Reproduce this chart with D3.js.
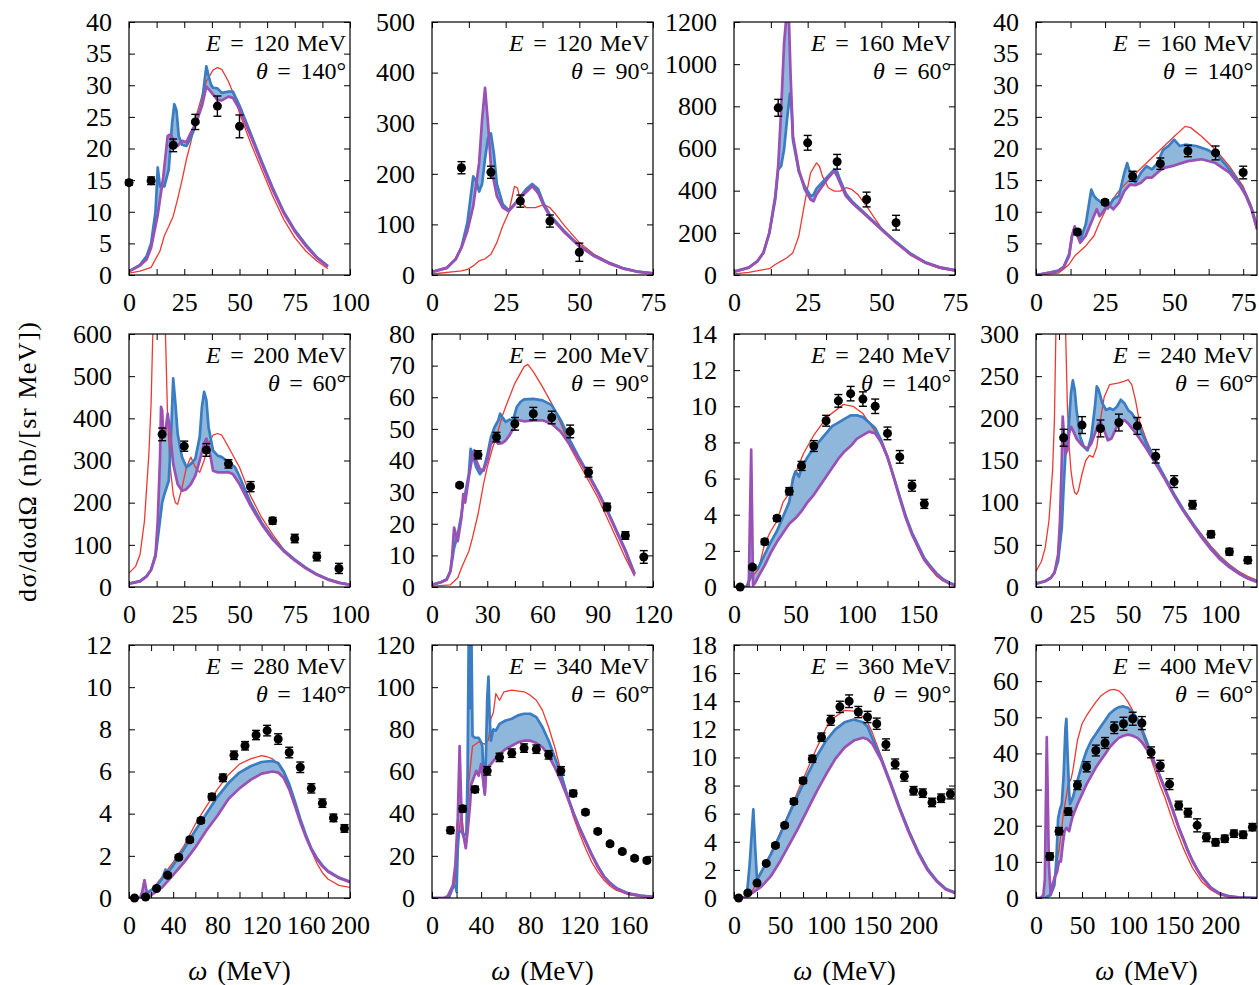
<!DOCTYPE html>
<html>
<head>
<meta charset="utf-8">
<script src="https://cdn.jsdelivr.net/npm/d3@7"></script>
<style>
  body { margin: 0; background: #fff; }
  svg text { font-family: "Liberation Serif", "DejaVu Serif", serif; fill: #000; }
</style>
</head>
<body>
<svg id="chart" width="1259" height="985"></svg>
<script>
// ---------- panel settings ----------
const beamEnergy = [120, 120, 160, 160, 200, 200, 240, 240, 280, 340, 360, 400];
const scatAngle  = [140, 90, 60, 140, 60, 90, 140, 60, 140, 60, 90, 60];
const omegaMax   = [100, 75, 75, 80, 100, 120, 180, 120, 200, 180, 240, 240];
const omegaStep  = [25, 25, 25, 25, 25, 30, 50, 25, 40, 40, 50, 50];
const sigmaMax   = [40, 500, 1200, 40, 600, 80, 14, 300, 12, 120, 18, 70];
const sigmaStep  = [5, 100, 200, 5, 100, 10, 2, 50, 2, 20, 2, 10];

// ---------- E = 120 MeV, theta = 140 deg ----------
const red120_140 = [[0,0.3],[5,0.6],[10,1.2],[14,3.8],[16,6.2],[18,7.7],[20,9.3],[22,12],[24,15],[26,18.3],[28,21],[30,24.6],[33,28.3],[35,30.6],[38,32.4],[40,32.8],[42,32.5],[45,30.6],[48,28],[50,25.6],[55,20.9],[60,16.7],[65,12.5],[70,8.8],[75,5.9],[80,3.8],[85,2.2],[90,1]];
const blue120_140 = [[0,0.6],[5,1.6],[8,3],[10,5],[12,10],[13,17],[14,14],[16,14],[18,16.7],[19.5,24],[20.5,27],[21.5,26],[22.5,22],[24,20.6],[26,20.4],[28,21.7],[30,23.5],[33,27.2],[35,33],[36,31.5],[37,30.2],[38,29.6],[40,29.5],[42,28.8],[45,29],[47,29],[50,26.8],[55,22.4],[60,18],[65,13.8],[70,10],[75,7.1],[80,4.8],[85,2.8],[90,1.4]];
const purple120_140 = [[0,0.6],[5,1.5],[8,2.5],[10,4.3],[13,9.5],[15.5,15.5],[17.5,22],[18.5,22.2],[20,21.5],[22,20.4],[24,21.2],[26,21],[28,22.5],[30,23.8],[33,26.7],[35,29.8],[37,29],[40,27.7],[42,27.6],[45,28.2],[47,28],[50,26.2],[55,22],[60,17.7],[65,13.5],[70,9.8],[75,6.9],[80,4.6],[85,2.7],[90,1.3]];
const dataX120_140 = [0, 10, 20, 30, 40, 50];
const dataY120_140 = [14.6, 14.9, 20.5, 24.2, 26.7, 23.5];
const dataE120_140 = [0.4, 0.6, 1.0, 1.2, 1.6, 1.8];

// ---------- E = 120 MeV, theta = 90 deg ----------
const red120_90 = [[0,2],[10,8],[12,11],[14,18],[16,28],[18,32],[20,41],[22,64],[24,97],[26,123],[28,175],[29,172],[30,146],[32,133],[35,133],[38,139],[40,133],[42,120],[45,97],[50,64],[55,41],[60,26],[65,14],[70,6.5],[75,3]];
const blue120_90 = [[0,6],[5,14],[8,31],[10,55],[12,103],[14,195],[15,185],[16,165],[17,180],[18,230],[19,270],[20,280],[21,240],[22,180],[24,140],[26,128],[28,140],[30,155],[32,170],[34,180],[36,170],[38,140],[40,119],[45,86],[50,58],[55,38.5],[60,24],[65,13],[70,6.5],[75,3.3]];
const purple120_90 = [[0,6],[5,14],[8,31],[10,54],[12,87],[14,136],[16,222],[17,307],[18,370],[19,300],[20,215],[22,156],[24,133],[26,126],[28,139],[30,153],[32,164],[34,176],[36,162],[38,136],[40,116],[45,84],[50,57],[55,37.5],[60,23],[65,12.5],[70,6],[75,3]];
const dataX120_90 = [10, 20, 30, 40, 50];
const dataY120_90 = [212, 203, 146, 106.6, 45];
const dataE120_90 = [12, 12, 12, 12, 18];

// ---------- E = 160 MeV, theta = 60 deg ----------
const red160_60 = [[0,5],[5,12],[10,25],[12,30],[14,50],[16,66],[18,82],[20,106],[22,185],[24,343],[26,485],[28,532],[29,516],[30,469],[32,414],[34,398],[36,398],[38,414],[40,406],[42,382],[45,327],[48,264],[50,224],[55,153],[60,93],[65,55],[70,30],[75,18]];
const blue160_60 = [[0,16],[5,35],[8,66],[10,106],[12,200],[14,358],[15,500],[16,517],[17,596],[18,738],[19,860],[19.5,800],[20,640],[22,490],[24,420],[26,375],[27,380],[28,410],[30,440],[32,470],[34,500],[35,490],[36,450],[38,385],[40,350],[45,285],[50,220],[55,157],[60,101],[65,60],[70,36],[75,23]];
const purple160_60 = [[0,16],[5,35],[8,66],[10,106],[12,200],[14,374],[15,517],[16,785],[17,1100],[17.8,1230],[18.6,1230],[19.2,950],[20,658],[22,500],[24,406],[26,358],[27,350],[28,382],[30,422],[32,461],[34,493],[35,469],[36,437],[38,374],[40,343],[45,280],[50,216],[55,153],[60,98],[65,58],[70,35],[75,22]];
const dataX160_60 = [15, 25, 35, 45, 55];
const dataY160_60 = [793, 627, 537, 358, 248];
const dataE160_60 = [40, 35, 35, 35, 35];

// ---------- E = 160 MeV, theta = 140 deg ----------
const red160_140 = [[0,0],[8,0.3],[10,0.9],[12,1.7],[14,3],[18,4.6],[21,6.2],[23,8.3],[25.6,10.6],[30,13.3],[35,15.6],[40,17.7],[45,19.8],[50,21.9],[54,23.5],[56,23.3],[60,21.9],[65,19.8],[70,17.2],[75,14],[78,10.9],[80,8]];
const blue160_140 = [[0,0],[5,0.4],[8,0.7],[10,1.3],[12,3.3],[13,6],[14,7.5],[15,6.5],[16,5.5],[18,8],[20,13.5],[21,12.5],[22,12],[24,11.4],[26,10.5],[28,12],[30,12.5],[32,16.2],[33,17.7],[34,16.2],[36,14.6],[38,16.2],[40,17.2],[42,16.7],[44,17.7],[46,19.8],[48,20.4],[50,21.4],[52,20.4],[54,20.6],[58,20.4],[62,19.8],[66,18.8],[70,16.7],[74,14.3],[76,12.7],[78,10.6],[80,7.4]];
const purple160_140 = [[0,0],[5,0.4],[8,0.6],[10,1.2],[12,3],[13,6.2],[14,7.7],[15,6.2],[16,5.1],[18,6.2],[20,8.3],[22,10.4],[23,9.3],[24,9.8],[26,11.2],[28,10.4],[30,11.4],[32,13.3],[34,14.3],[36,14.2],[38,14.6],[40,15.4],[42,15.4],[44,16.2],[46,16.9],[50,17.3],[55,18],[60,18.3],[65,17.7],[70,16.2],[74,14],[76,12.5],[78,10.4],[80,7.2]];
const dataX160_140 = [15, 25, 35, 45, 55, 65, 75];
const dataY160_140 = [6.8, 11.5, 15.6, 17.6, 19.6, 19.3, 16.2];
const dataE160_140 = [0.4, 0.4, 0.8, 0.9, 0.9, 1.1, 1.0];

// ---------- E = 200 MeV, theta = 60 deg ----------
const red200_60 = [[0,33],[3,49],[5,77],[7,157],[9,316],[10,435],[11,650],[12,1100],[13,1600],[14,1400],[15,1000],[16.5,600],[17.5,395],[18.5,292],[20,220],[21,200],[22,196],[24,236],[26,284],[28,308],[30,284],[32,272],[34,300],[36,340],[38,360],[40,364],[42,360],[45,332],[50,284],[55,216],[60,165],[65,125],[70,89],[75,65],[80,45],[85,31],[90,20],[95,12],[100,6]];
const blue200_60 = [[0,8],[5,14],[8,26],[10,41],[12,73],[14,157],[15,200],[16,220],[18,252],[19,356],[20,495],[21,435],[22,364],[24,308],[26,284],[28,292],[30,304],[32,356],[33,427],[34,463],[35,443],[36,379],[38,324],[40,312],[42,308],[45,296],[48,284],[50,262],[55,200],[60,153],[65,116],[70,87],[75,65],[80,46],[85,30],[90,18.5],[95,10],[100,5.5]];
const purple200_60 = [[0,8],[5,13.5],[8,25],[10,41],[12,77],[13,157],[14,300],[14.5,427],[15,419],[15.5,356],[16.5,371],[17.5,411],[18.5,371],[20,292],[22,244],[24,228],[26,232],[28,244],[30,264],[32,300],[34,340],[35,352],[36,336],[38,276],[40,272],[42,272],[45,272],[47,268],[50,244],[55,193],[60,149],[65,113],[70,85],[75,63],[80,44],[85,29],[90,17.5],[95,9.5],[100,5]];
const dataX200_60 = [15, 25, 35, 45, 55, 65, 75, 85, 95];
const dataY200_60 = [362, 334, 325, 292, 238, 157, 115, 72, 44];
const dataE200_60 = [15, 12, 15, 10, 12, 8, 10, 10, 12];

// ---------- E = 200 MeV, theta = 90 deg ----------
const red200_90 = [[0,0.3],[10,0.7],[14,2.9],[16,6],[18,8.7],[20,11.3],[22,15.6],[25,23],[28,32.6],[30,37.9],[33,44.2],[35,47.4],[38,53.8],[40,57],[45,64.4],[50,69.7],[52,70.4],[55,68.1],[60,63.3],[65,58],[70,51.6],[75,44.2],[80,38.9],[85,33.6],[90,28.3],[95,22],[100,15.6],[105,9.2],[110,3.4]];
const blue200_90 = [[0,0.7],[5,1.6],[8,2.5],[10,5],[12,12.4],[14,16.6],[16,23],[17,27.3],[18,29.4],[20,35.7],[21,43.7],[22,42],[24,37.9],[26,35.7],[28,37.3],[30,41.6],[32,47.4],[34,50.6],[36,52.7],[37,54.8],[38,53.8],[40,52.2],[42,52.9],[44,52.7],[46,56.9],[48,58.5],[50,59.3],[55,59.5],[60,59],[65,57.5],[70,52.7],[75,46.3],[80,40.7],[85,35.6],[90,30.3],[95,24.5],[100,18.1],[105,11.7],[110,4.3]];
const purple200_90 = [[0,0.7],[5,1.5],[8,2.3],[10,5],[11,10.3],[12,18.8],[13,16.6],[14,14.5],[16,22],[17,29.4],[18,26.7],[20,34.7],[22,41.6],[23,43.2],[24,40],[26,37.3],[28,36.8],[30,40],[32,45.3],[34,46.6],[36,45.3],[38,45.5],[40,46.3],[42,47.9],[44,50],[46,52.9],[50,52.4],[55,52.7],[60,52.7],[65,51.6],[70,49],[75,44.8],[80,40.2],[85,35.2],[90,29.9],[95,24.1],[100,17.7],[105,11.3],[110,3.9]];
const dataX200_90 = [15, 25, 35, 45, 55, 65, 75, 85, 95, 105, 115];
const dataY200_90 = [32.2, 41.8, 47.4, 51.6, 54.8, 53.6, 49.2, 36.3, 25.3, 16.3, 9.5];
const dataE200_90 = [0.6, 1.3, 1.5, 2, 2, 2, 2, 1.5, 1.2, 1.2, 2];

// ---------- E = 240 MeV, theta = 140 deg ----------
const red240_140 = [[0,0],[10,0],[14,0.5],[20,1],[25,2.4],[30,3.1],[35,3.65],[40,4.7],[46,5.3],[50,6.3],[56.7,7.4],[65,8.4],[75.7,9.4],[89,10.1],[97,10],[105,9.6],[110,9.1],[115,8.6],[120,7.9],[125,7.1],[130,6.1],[135,5],[140,3.9],[145,2.9],[150,2.1],[155,1.45],[160,1],[165,0.6],[170,0.35],[180,0.1]];
const blue240_140 = [[0,0],[10,0],[12,0.3],[14,0.7],[16,1],[20,1.1],[25,1.8],[30,2.5],[35,3.1],[40,3.9],[45,4.7],[48,6],[50,6.4],[53,6.1],[55,6.6],[60,7.2],[65,7.7],[70,8.1],[75,8.5],[80,8.9],[85,9.1],[90,9.3],[95,9.5],[100,9.5],[105,9.4],[110,9.1],[115,8.8],[120,8.1],[125,7.2],[130,6.1],[135,5],[140,3.9],[145,3],[150,2.3],[155,1.6],[160,1.15],[165,0.75],[170,0.45],[175,0.25],[180,0.12]];
const purple240_140 = [[0,0],[12,0],[14,7.6],[15.5,0.1],[17,0.2],[20,0.6],[25,1.2],[30,1.9],[35,2.5],[40,3],[45,3.5],[50,3.8],[55,4.2],[60,4.7],[65,5.1],[70,5.6],[75,6.1],[80,6.6],[85,7.1],[90,7.5],[95,7.8],[100,8.2],[105,8.4],[110,8.6],[115,8.5],[120,8.0],[125,7.2],[130,6.1],[135,4.9],[140,3.8],[145,2.9],[150,2.2],[155,1.5],[160,1.1],[165,0.7],[170,0.4],[175,0.2],[180,0.1]];
const dataX240_140 = [5, 15, 25, 35, 45, 55, 65, 75, 85, 95, 105, 115, 125, 135, 145, 155];
const dataY240_140 = [0, 1.1, 2.5, 3.8, 5.3, 6.7, 7.8, 9.2, 10.3, 10.7, 10.4, 10, 8.5, 7.2, 5.6, 4.6];
const dataE240_140 = [0.05, 0.12, 0.15, 0.15, 0.2, 0.25, 0.3, 0.3, 0.35, 0.4, 0.4, 0.4, 0.35, 0.35, 0.3, 0.25];

// ---------- E = 240 MeV, theta = 60 deg ----------
const red240_60 = [[0,18.7],[3,30.6],[5,46.6],[7,78],[9,138],[10,198],[11,330],[12,600],[13,900],[14,800],[15,500],[16,310],[17,218],[18,166],[19,138],[20,122],[21,112],[22,110],[23,114],[25,134],[27,150],[29,156],[31,154],[33,166],[35,198],[37,225],[40,240],[45,242],[48,244],[50,246],[52,240],[54,222],[56,198],[60,174],[65,150],[70,130],[75,110],[80,92],[85,76],[90,62.5],[95,48.5],[100,36.6],[105,26.7],[110,18.7],[115,12.7],[120,8]];
const blue240_60 = [[0,4],[5,7],[8,11],[10,17],[12,30.6],[14,70],[15,118],[16,158],[17,170],[18,198],[19,230],[20,245],[21,234],[22,210],[24,178],[26,166],[28,162],[30,178],[32,214],[33,238],[34,234],[36,218],[38,210],[40,212],[42,210],[44,214],[46,222],[48,218],[50,210],[52,206],[55,196],[60,170],[65,150],[70,130],[75,110],[80,92],[85,76],[90,60],[95,46],[100,34],[105,24.5],[110,16.8],[115,10.5],[120,6.5]];
const purple240_60 = [[0,4],[5,6.8],[8,10.7],[10,16.7],[12,38.6],[13,78],[14,150],[14.5,202],[15,186],[16,158],[17,162],[18,182],[19,190],[20,186],[22,176],[25,168],[28,164],[30,170],[32,182],[34,194],[35,196],[37,186],[39,174],[41,176],[43,186],[45,194],[48,198],[50,194],[55,180],[60,164],[65,146],[70,128],[75,108],[80,90],[85,74],[90,58.5],[95,44.6],[100,32.6],[105,23.5],[110,16],[115,10],[120,6]];
const dataX240_60 = [15, 25, 35, 45, 55, 65, 75, 85, 95, 105, 115];
const dataY240_60 = [177, 192, 188, 195, 191, 155, 125, 97.5, 62.5, 41.8, 31.8];
const dataE240_60 = [10, 10, 10, 10, 10, 8, 7, 5, 4, 4, 4];

// ---------- E = 280 MeV, theta = 140 deg ----------
const red280_140 = [[0,0],[10,0],[20,0.35],[30,1],[40,1.7],[50,2.5],[60,3.5],[70,4.35],[80,5.15],[90,5.85],[100,6.35],[110,6.6],[120,6.75],[125,6.7],[130,6.6],[135,6.35],[140,5.95],[145,5.3],[150,4.5],[155,3.7],[160,2.95],[165,2.25],[170,1.65],[175,1.2],[180,0.9],[190,0.6],[200,0.5]];
const blue280_140 = [[0,0],[10,0],[15,0.2],[20,0.37],[25,0.6],[30,0.9],[33,1.35],[35,1.2],[40,1.55],[50,2.35],[60,3.2],[70,4],[80,4.8],[90,5.45],[100,5.95],[110,6.25],[120,6.45],[130,6.5],[135,6.4],[140,6],[145,5.4],[150,4.6],[155,3.75],[160,3],[165,2.35],[170,1.9],[175,1.55],[180,1.28],[190,0.97],[200,0.77]];
const purple280_140 = [[0,0],[10,0],[12,0.3],[14,0.85],[16,0.3],[17,0.05],[20,0.13],[30,0.5],[40,1.1],[50,1.7],[60,2.4],[70,3.2],[80,3.9],[90,4.7],[100,5.2],[110,5.6],[120,5.9],[130,6],[135,5.95],[140,5.7],[145,5.15],[150,4.4],[155,3.6],[160,2.9],[165,2.3],[170,1.85],[175,1.5],[180,1.25],[190,0.95],[200,0.75]];
const dataX280_140 = [5, 15, 25, 35, 45, 55, 65, 75, 85, 95, 105, 115, 125, 135, 145, 155, 165, 175, 185, 195];
const dataY280_140 = [0, 0.05, 0.45, 1.08, 1.93, 2.76, 3.67, 4.8, 5.7, 6.77, 7.22, 7.73, 7.94, 7.54, 6.9, 6.2, 5.2, 4.5, 3.8, 3.3];
const dataE280_140 = [0.03, 0.03, 0.06, 0.1, 0.1, 0.12, 0.12, 0.15, 0.18, 0.2, 0.2, 0.22, 0.25, 0.25, 0.25, 0.25, 0.22, 0.2, 0.18, 0.18];

// ---------- E = 340 MeV, theta = 60 deg ----------
const red340_60 = [[0,0],[14,0],[17,5],[19,8],[21,28],[24,40],[26,30],[28,31],[30,55],[33,72],[38,74],[43,73],[46,75],[48,85],[50,88],[52,97],[55,93.8],[58.6,97.8],[65,98.6],[75,97.8],[80,96.2],[85,93.8],[90,89],[95,81],[100,71.5],[105,60.3],[110,49],[115,38.8],[120,30.8],[125,23.6],[130,17.2],[135,12.4],[140,8.5],[145,5.7],[150,3.7],[160,1.6],[170,0.7],[180,0.3]];
const blue340_60 = [[0,0],[10,0],[14,0.5],[17,5],[19,6],[20,3],[21,23.6],[22,31.6],[24,31.6],[26,30],[28,30],[29,60],[30,130],[31,90],[32,130],[33,77],[35,76],[38,76],[40,73.8],[41,72],[42,55],[43,50],[44,70],[45,95],[46,105],[47,85],[48,74.6],[50,80],[52,79.4],[55,82.6],[60,84.2],[65,85],[70,86.6],[75,87.4],[80,87.4],[85,85.8],[90,81],[95,74.6],[100,66.7],[105,58.7],[110,49],[115,40.8],[120,33.6],[125,27.2],[130,20.8],[135,15.2],[140,10.4],[145,7.2],[150,4.8],[160,2.2],[170,1.1],[180,0.6]];
const purple340_60 = [[0,0],[10,0],[13,1],[17,6],[19,15.6],[21,38],[22.5,72],[23.5,50.7],[24.5,31.6],[26,28.4],[27.5,23.6],[29,31.6],[31,44.3],[32,53.9],[34,57],[36,60.3],[38,58],[40,63.5],[42,54],[43,49],[44,58.7],[45.5,62],[48,63.5],[50,65],[55,68.3],[60,70.7],[65,72.2],[70,73.8],[75,74.6],[80,74.6],[85,73.5],[90,71.5],[95,67.5],[100,61.9],[105,55.5],[110,48.3],[115,40.3],[120,33.2],[125,26.8],[130,20.4],[135,14.8],[140,10],[145,6.9],[150,4.5],[160,2],[170,1],[180,0.5]];
const dataX340_60 = [15, 25, 35, 45, 55, 65, 75, 85, 95, 105, 115, 125, 135, 145, 155, 165, 175];
const dataY340_60 = [32.1, 42.3, 51.5, 60.3, 66.7, 68.7, 71.1, 70.6, 67.9, 60.3, 49.6, 40.7, 31.6, 25.7, 22, 18.8, 17.8];
const dataE340_60 = [1.5, 1.5, 1.5, 2, 2, 2, 2, 2, 2, 2, 1.5, 1.2, 1, 1, 1, 1, 1];

// ---------- E = 360 MeV, theta = 90 deg ----------
const red360_90 = [[0,0],[10,0],[20,0.5],[25,1.2],[30,1.8],[40,3.2],[50,4.6],[60,6.1],[70,7.7],[80,9.2],[90,10.7],[100,12.1],[110,12.9],[120,13.35],[130,13.3],[140,12.9],[145,12.5],[150,11.8],[160,10.05],[170,8.2],[180,6.4],[190,4.8],[200,3.3],[210,2.1],[220,1.25],[230,0.65],[240,0.3]];
const blue360_90 = [[0,0],[10,0],[14,0.24],[17,2.4],[21,6.3],[23,3.6],[25,1.3],[30,1.9],[40,3.1],[50,4.5],[60,6],[70,7.4],[80,8.8],[90,10.1],[100,11.2],[110,12],[120,12.5],[130,12.7],[140,12.5],[145,12.2],[150,11.4],[160,9.9],[170,8.2],[180,6.4],[190,4.75],[200,3.3],[210,2.1],[220,1.25],[230,0.65],[240,0.4]];
const purple360_90 = [[0,0],[10,0],[20,0.36],[30,0.83],[40,1.55],[50,2.6],[60,3.8],[70,5],[80,6.3],[90,7.6],[100,8.8],[110,9.9],[120,10.7],[130,11.2],[140,11.4],[145,11.3],[150,11],[160,9.8],[170,8.1],[180,6.3],[190,4.65],[200,3.2],[210,2],[220,1.2],[230,0.6],[240,0.36]];
const dataX360_90 = [5, 15, 25, 35, 45, 55, 65, 75, 85, 95, 105, 115, 125, 135, 145, 155, 165, 175, 185, 195, 205, 215, 225, 235];
const dataY360_90 = [0, 0.36, 1.07, 2.46, 3.74, 5.17, 6.87, 8.35, 9.9, 11.44, 12.64, 13.6, 14, 13.23, 12.88, 12.4, 10.92, 9.54, 8.66, 7.63, 7.46, 6.8, 7.1, 7.4];
const dataE360_90 = [0.05, 0.1, 0.1, 0.12, 0.15, 0.15, 0.2, 0.2, 0.25, 0.3, 0.35, 0.4, 0.45, 0.4, 0.4, 0.4, 0.4, 0.35, 0.35, 0.3, 0.3, 0.3, 0.3, 0.35];

// ---------- E = 400 MeV, theta = 60 deg ----------
const red400_60 = [[0,0],[10,0],[15,0.5],[18,2],[20,5],[22,9],[25,13.4],[28,19.4],[30,24],[33,28.2],[35,31.5],[38,32.9],[40,35.2],[45,43.6],[50,48.2],[55,50.5],[60,52.4],[65,54.2],[70,55.8],[75,56.8],[80,57.5],[85,57.7],[90,57.3],[95,56.1],[100,54.2],[105,51.9],[110,49.1],[115,45.9],[120,42.2],[125,38.4],[130,34.7],[135,31],[140,27.8],[145,24],[150,20.3],[155,17.1],[160,13.8],[165,11],[170,8.3],[175,6.4],[180,4.5],[190,2.2],[200,0.8],[210,0.3],[220,0.1],[240,0]];
const blue400_60 = [[0,0],[10,0],[15,0.8],[18,2.2],[20,3.6],[22,10],[24,22],[26,24.5],[28,26],[30,34],[32,47],[33,49.6],[34,42],[36,29],[37,26],[40,27.8],[45,32.4],[50,37],[55,40.8],[60,43.5],[65,45.4],[70,47.3],[75,49.1],[80,51],[85,52.1],[90,52.8],[95,53],[100,52.6],[105,51.4],[110,49.6],[115,46.8],[120,43.5],[125,39.8],[130,36.6],[135,33.5],[140,30.3],[145,27],[150,23.3],[155,19.6],[160,16.4],[165,13.1],[170,10.3],[175,8],[180,5.9],[190,2.9],[200,1.2],[210,0.5],[220,0.15],[240,0]];
const purple400_60 = [[0,0],[5,0],[8,0.8],[9.6,5],[11.7,44.5],[14,9.2],[16,0.8],[18,3.6],[20,5.5],[23,7.3],[25,10.1],[27,10.1],[29,14.8],[31,18.5],[33,19.4],[36,18.5],[38,20.8],[40,22.7],[45,25.9],[50,28.7],[55,31.5],[60,33.8],[65,36.1],[70,38],[75,39.8],[80,41.7],[85,43.1],[90,44.3],[95,44.9],[100,45.2],[105,44.9],[110,44.3],[115,43.1],[120,41.2],[125,39.1],[130,36.6],[135,33.3],[140,30.1],[145,26.8],[150,23.1],[155,19.4],[160,16.2],[165,12.9],[170,10.1],[175,7.8],[180,5.7],[190,2.7],[200,1.1],[210,0.4],[220,0.1],[240,0]];
const dataX400_60 = [15, 25, 35, 45, 55, 65, 75, 85, 95, 105, 115, 125, 135, 145, 155, 165, 175, 185, 195, 205, 215, 225, 235];
const dataY400_60 = [11.5, 18.5, 23.9, 31.2, 36.3, 40.8, 42.9, 47.1, 48.2, 49.6, 48.4, 40.3, 36.6, 31.5, 25.6, 23.6, 20.1, 16.8, 15.4, 16.4, 17.8, 17.5, 19.6];
const dataE400_60 = [1, 1, 1, 1.2, 1.4, 1.5, 1.5, 1.6, 1.8, 1.8, 1.8, 1.5, 1.5, 1.5, 1.2, 1.2, 1.8, 1.2, 1, 1, 1, 1, 1];

// ---------- assemble the panels ----------
const redCurves    = [red120_140, red120_90, red160_60, red160_140, red200_60, red200_90, red240_140, red240_60, red280_140, red340_60, red360_90, red400_60];
const blueCurves   = [blue120_140, blue120_90, blue160_60, blue160_140, blue200_60, blue200_90, blue240_140, blue240_60, blue280_140, blue340_60, blue360_90, blue400_60];
const purpleCurves = [purple120_140, purple120_90, purple160_60, purple160_140, purple200_60, purple200_90, purple240_140, purple240_60, purple280_140, purple340_60, purple360_90, purple400_60];
const dataXs = [dataX120_140, dataX120_90, dataX160_60, dataX160_140, dataX200_60, dataX200_90, dataX240_140, dataX240_60, dataX280_140, dataX340_60, dataX360_90, dataX400_60];
const dataYs = [dataY120_140, dataY120_90, dataY160_60, dataY160_140, dataY200_60, dataY200_90, dataY240_140, dataY240_60, dataY280_140, dataY340_60, dataY360_90, dataY400_60];
const dataEs = [dataE120_140, dataE120_90, dataE160_60, dataE160_140, dataE200_60, dataE200_90, dataE240_140, dataE240_60, dataE280_140, dataE340_60, dataE360_90, dataE400_60];

// ---------- layout ----------
const colLeft = [129, 432, 734, 1036];
const rowTop = [22, 334, 645];
const W = 221, H = 253;
const TICK = 6;
const FONT = 26;
const LABEL_FONT = 24;

const colors = {
  band: "#8fb6db",
  blue: "#3a7dc2",
  purple: "#9a50b4",
  red: "#ec3a32"
};

const svg = d3.select("#chart");

// "sym = value unit" with relation spacing widened like typeset math
function kinematicLabel(g, yPos, symbol, value, unit) {
  const t = g.append("text").attr("x", W - 4).attr("y", yPos)
    .attr("text-anchor", "end").attr("font-size", LABEL_FONT);
  t.append("tspan").attr("font-style", "italic").text(symbol);
  t.append("tspan").style("word-spacing", "3.5px").text(" = ");
  t.append("tspan").style("word-spacing", "1.5px").text(value + unit);
}

beamEnergy.forEach((E, i) => {
  const left = colLeft[i % 4], top = rowTop[Math.floor(i / 4)];
  const g = svg.append("g").attr("transform", `translate(${left},${top})`);

  const x = d3.scaleLinear().domain([0, omegaMax[i]]).range([0, W]);
  const y = d3.scaleLinear().domain([0, sigmaMax[i]]).range([H, 0]);

  const clipId = "clip" + i;
  g.append("clipPath").attr("id", clipId)
    .append("rect").attr("width", W).attr("height", H);
  const cg = g.append("g").attr("clip-path", `url(#${clipId})`);

  const line = d3.line().x(d => x(d[0])).y(d => y(d[1]));

  // band between the two theory curves
  const poly = blueCurves[i].concat(purpleCurves[i].slice().reverse());
  cg.append("path").attr("d", line(poly) + "Z")
    .attr("fill", colors.band).attr("stroke", "none");

  cg.append("path").attr("d", line(redCurves[i]))
    .attr("fill", "none").attr("stroke", colors.red).attr("stroke-width", 1.3)
    .attr("stroke-linejoin", "round");
  cg.append("path").attr("d", line(blueCurves[i]))
    .attr("fill", "none").attr("stroke", colors.blue).attr("stroke-width", 2.7)
    .attr("stroke-linejoin", "round");
  cg.append("path").attr("d", line(purpleCurves[i]))
    .attr("fill", "none").attr("stroke", colors.purple).attr("stroke-width", 2.7)
    .attr("stroke-linejoin", "round");

  // axes with inward ticks, mirrored on all four sides
  const xMajor = d3.range(0, omegaMax[i] + 1e-9, omegaStep[i]);
  const xMinor = d3.range(0, omegaMax[i] + 1e-9, omegaStep[i] / 2);
  const yMajor = d3.range(0, sigmaMax[i] + 1e-9, sigmaStep[i]);

  const styleAxis = sel => {
    sel.select(".domain").remove();
    sel.selectAll("line").attr("stroke", "#000").attr("stroke-width", 1);
    sel.selectAll("text").attr("font-size", FONT)
      .attr("font-family", "'Liberation Serif', 'DejaVu Serif', serif").attr("fill", "#000");
  };

  g.append("g").attr("transform", `translate(0,${H})`)
    .call(d3.axisBottom(x).tickValues(xMinor).tickSize(-TICK).tickFormat(""))
    .call(styleAxis);
  g.append("g").attr("transform", `translate(0,${H})`)
    .call(d3.axisBottom(x).tickValues(xMajor).tickSize(0).tickPadding(18).tickFormat(d3.format("d")))
    .call(styleAxis);
  g.append("g")
    .call(d3.axisTop(x).tickValues(xMinor).tickSize(-TICK).tickFormat(""))
    .call(styleAxis);
  g.append("g")
    .call(d3.axisLeft(y).tickValues(yMajor).tickSize(-TICK).tickPadding(17).tickFormat(d3.format("d")))
    .call(styleAxis);
  g.append("g").attr("transform", `translate(${W},0)`)
    .call(d3.axisRight(y).tickValues(yMajor).tickSize(-TICK).tickFormat(""))
    .call(styleAxis);

  g.append("rect").attr("width", W).attr("height", H)
    .attr("fill", "none").attr("stroke", "#000").attr("stroke-width", 1.2);

  // measured points with error bars
  const pts = dataXs[i].map((xv, k) => ({ x: xv, y: dataYs[i][k], e: dataEs[i][k] }));
  const pg = g.append("g");
  pts.forEach(p => {
    const px = x(p.x), y1 = y(p.y + p.e), y2 = y(p.y - p.e);
    pg.append("line").attr("x1", px).attr("x2", px).attr("y1", y1).attr("y2", y2)
      .attr("stroke", "#000").attr("stroke-width", 1.4);
    [y1, y2].forEach(yy => pg.append("line")
      .attr("x1", px - 4).attr("x2", px + 4).attr("y1", yy).attr("y2", yy)
      .attr("stroke", "#000").attr("stroke-width", 1.4));
    pg.append("circle").attr("cx", px).attr("cy", y(p.y)).attr("r", 4.5).attr("fill", "#000");
  });

  // kinematics annotation
  kinematicLabel(g, 29, "E", E, " MeV");
  kinematicLabel(g, 57, "θ", scatAngle[i], "°");
});

// column axis titles
colLeft.forEach(left => {
  const t = svg.append("text").attr("x", left + W / 2).attr("y", 980)
    .attr("text-anchor", "middle").attr("font-size", 27)
    .style("word-spacing", "3px");
  t.append("tspan").attr("font-style", "italic").text("ω");
  t.append("tspan").text(" (MeV)");
});

// shared vertical title
svg.append("text")
  .attr("transform", "translate(36,462) rotate(-90)")
  .attr("text-anchor", "middle").attr("font-size", 26)
  .attr("textLength", 280).attr("lengthAdjust", "spacing")
  .text("dσ/dωdΩ (nb/[sr MeV])");
</script>
</body>
</html>
